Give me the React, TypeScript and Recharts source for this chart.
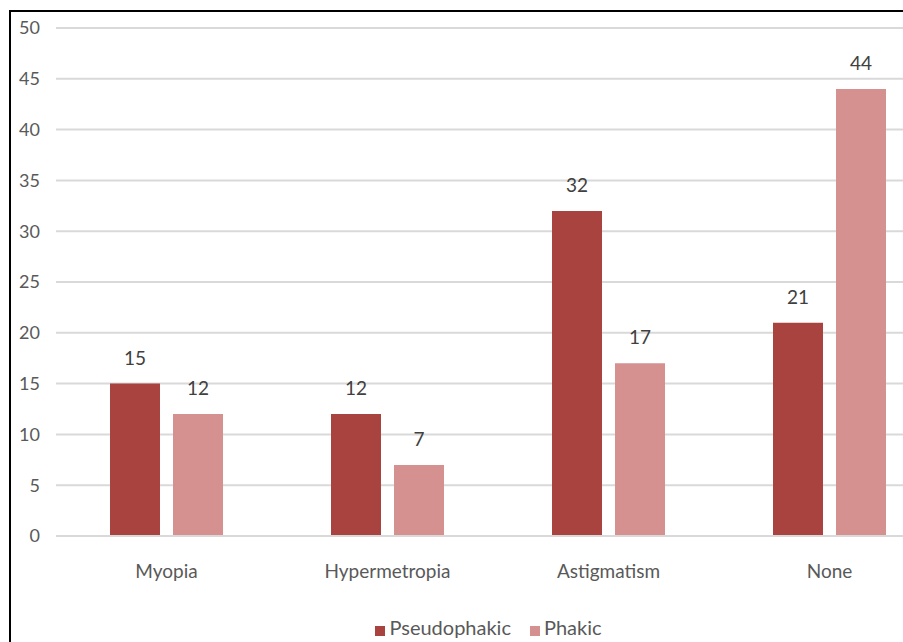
import { BarChart, Bar, XAxis, YAxis, CartesianGrid, Legend, LabelList } from "recharts";

const categories = ["Myopia", "Hypermetropia", "Astigmatism", "None"];
const pseudophakic = [15, 12, 32, 21];
const phakic = [12, 7, 17, 44];
const yTicks = [0, 5, 10, 15, 20, 25, 30, 35, 40, 45, 50];
const seriesOrder = ["Pseudophakic", "Phakic"];

const data = categories.map((name, i) => ({
  name,
  pseudophakic: pseudophakic[i],
  phakic: phakic[i],
}));

const FONT = "Lato, 'DejaVu Sans', sans-serif";

export default function App() {
  return (
    <div
      style={{
        position: "fixed",
        left: 0,
        top: 0,
        width: 903,
        height: 642,
        overflow: "hidden",
        background: "#fff",
        fontFamily: FONT,
      }}
    >
      {/* frame: only left and top edges are visible in the source image */}
      <div
        style={{
          position: "absolute",
          left: 9,
          top: 10,
          width: 1000,
          height: 1000,
          borderLeft: "2px solid #000",
          borderTop: "2px solid #000",
          zIndex: 2,
          pointerEvents: "none",
        }}
      />
      <div style={{ position: "absolute", left: 8, top: 8 }}>
        <BarChart
          width={960}
          height={634}
          data={data}
          margin={{ top: 20, right: 28, left: 0, bottom: 2 }}
          barGap={13}
          barCategoryGap={54}
        >
          <CartesianGrid vertical={false} stroke="#d9d9d9" strokeWidth={2} />
          <XAxis
            dataKey="name"
            axisLine={{ stroke: "#d9d9d9", strokeWidth: 2 }}
            tickLine={false}
            tickSize={0}
            tickMargin={29}
            height={70}
            tick={{ fill: "#595959", fontSize: 19, fontFamily: FONT }}
          />
          <YAxis
            width={48}
            domain={[0, 50]}
            ticks={yTicks}
            axisLine={false}
            tickLine={false}
            tickSize={0}
            tickMargin={16}
            tick={{ fill: "#595959", fontSize: 18, fontFamily: FONT }}
          />
          <Legend
            verticalAlign="bottom"
            height={34}
            iconType="square"
            iconSize={10}
            wrapperStyle={{ bottom: -7, left: 24 }}
            itemSorter={(item: any) => seriesOrder.indexOf(item.value)}
            formatter={(v) => (
              <span style={{ color: "#595959", fontSize: 20, marginRight: 9 }}>{v}</span>
            )}
          />
          <Bar dataKey="pseudophakic" name="Pseudophakic" fill="#a8433f" isAnimationActive={false}>
            <LabelList dataKey="pseudophakic" position="top" offset={19} fill="#404040" fontSize={19} />
          </Bar>
          <Bar dataKey="phakic" name="Phakic" fill="#d59090" isAnimationActive={false}>
            <LabelList dataKey="phakic" position="top" offset={19} fill="#404040" fontSize={19} />
          </Bar>
        </BarChart>
      </div>
    </div>
  );
}
